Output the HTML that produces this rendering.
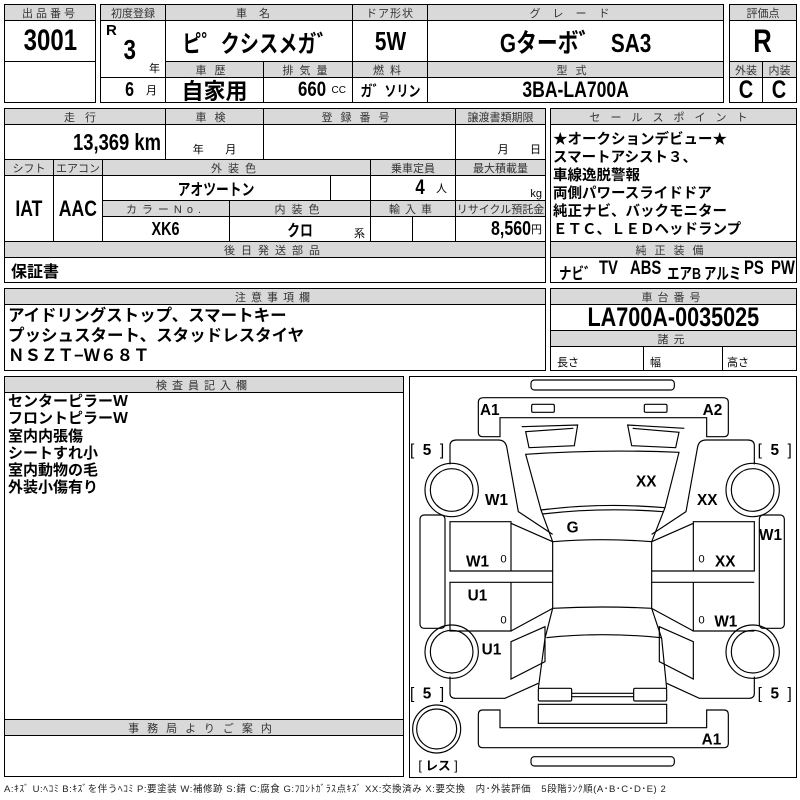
<!DOCTYPE html>
<html><head><meta charset="utf-8">
<style>
*{margin:0;padding:0}
body{width:800px;height:800px;background:#fff;position:relative;overflow:hidden;font-family:"Liberation Sans","Noto Sans CJK JP",sans-serif;color:#000}
.c{position:absolute;border:1px solid #000;box-sizing:border-box;display:flex;align-items:center;justify-content:center;font-weight:bold;white-space:nowrap;overflow:hidden}
.h{background:#d9d9d9;font-weight:normal;font-size:11px;letter-spacing:3px;color:#333}
.t{position:absolute;white-space:nowrap}
.s{display:inline-block;transform:scaleX(.8)}
.sr{display:inline-block;transform:scaleX(.8);transform-origin:right center}
.tl{transform:scaleX(.78);transform-origin:left center}
</style></head><body>
<div class="c h" style="left:4px;top:4px;width:92px;height:17px">出品番号</div>
<div class="c" style="left:4px;top:20px;width:92px;height:42px;font-size:30px"><span class="s">3001</span></div>
<div class="c" style="left:4px;top:61px;width:92px;height:42px"></div>
<div class="c h" style="left:100px;top:4px;width:66px;height:17px;letter-spacing:0">初度登録</div>
<div class="c h" style="left:165px;top:4px;width:188px;height:17px;letter-spacing:12px">車名</div>
<div class="c h" style="left:352px;top:4px;width:76px;height:17px;letter-spacing:1px">ドア形状</div>
<div class="c h" style="left:427px;top:4px;width:297px;height:17px;letter-spacing:12px">グレード</div>
<div class="c" style="left:100px;top:20px;width:66px;height:58px"></div>
<div class="t" style="left:106px;top:22px;font-size:15px;font-weight:bold">R</div>
<div class="t" style="left:122px;top:34px;font-size:28px;font-weight:bold"><span class="s">3</span></div>
<div class="t" style="left:149px;top:60px;font-size:11px">年</div>
<div class="c" style="left:165px;top:20px;width:188px;height:42px;font-size:24px"><span class="s">ピ゜クシスメガ゛</span></div>
<div class="c" style="left:352px;top:20px;width:76px;height:42px;font-size:26px"><span class="s">5W</span></div>
<div class="c" style="left:427px;top:20px;width:297px;height:42px;font-size:26px"><span class="s">Gターボ゛&nbsp;&nbsp;SA3</span></div>
<div class="c h" style="left:165px;top:61px;width:99px;height:17px;letter-spacing:8px">車歴</div>
<div class="c h" style="left:263px;top:61px;width:90px;height:17px;letter-spacing:6px">排気量</div>
<div class="c h" style="left:352px;top:61px;width:76px;height:17px;letter-spacing:6px">燃料</div>
<div class="c h" style="left:427px;top:61px;width:297px;height:17px;letter-spacing:8px">型式</div>
<div class="c" style="left:100px;top:77px;width:66px;height:26px;font-size:20px;justify-content:flex-end;padding-right:8px"><span class="s">6</span>&nbsp;&nbsp;<span style="font-size:11px;font-weight:normal">月</span></div>
<div class="c" style="left:165px;top:77px;width:99px;height:26px;font-size:22px">自家用</div>
<div class="c" style="left:263px;top:77px;width:90px;height:26px;font-size:21px;justify-content:flex-end;padding-right:6px"><span class="sr">660</span>&nbsp;<span style="font-size:10px;font-weight:normal">CC</span></div>
<div class="c" style="left:352px;top:77px;width:76px;height:26px;font-size:15px"><span class="s">ガ゛ソリン</span></div>
<div class="c" style="left:427px;top:77px;width:297px;height:26px;font-size:22px"><span class="s">3BA-LA700A</span></div>
<div class="c h" style="left:729px;top:4px;width:68px;height:17px;letter-spacing:0">評価点</div>
<div class="c" style="left:729px;top:20px;width:68px;height:42px;font-size:32px"><span class="s">R</span></div>
<div class="c h" style="left:729px;top:61px;width:34px;height:17px;letter-spacing:0">外装</div>
<div class="c h" style="left:762px;top:61px;width:35px;height:17px;letter-spacing:0">内装</div>
<div class="c" style="left:729px;top:77px;width:34px;height:26px;font-size:25px"><span class="s">C</span></div>
<div class="c" style="left:762px;top:77px;width:35px;height:26px;font-size:25px"><span class="s">C</span></div>
<div class="c h" style="left:4px;top:108px;width:162px;height:17px;letter-spacing:10px">走行</div>
<div class="c h" style="left:165px;top:108px;width:99px;height:17px;letter-spacing:8px">車検</div>
<div class="c h" style="left:263px;top:108px;width:193px;height:17px;letter-spacing:8px">登録番号</div>
<div class="c h" style="left:455px;top:108px;width:91px;height:17px;letter-spacing:0">譲渡書類期限</div>
<div class="c" style="left:4px;top:124px;width:162px;height:36px;font-size:23px;justify-content:flex-end;padding-right:4px"><span class="sr">13,369 km</span></div>
<div class="c" style="left:165px;top:124px;width:99px;height:36px;font-size:11px;font-weight:normal;align-items:flex-end;padding-bottom:2px">年&nbsp;&nbsp;&nbsp;&nbsp;&nbsp;&nbsp;&nbsp;月</div>
<div class="c" style="left:263px;top:124px;width:193px;height:36px"></div>
<div class="c" style="left:455px;top:124px;width:91px;height:36px;font-size:11px;font-weight:normal;align-items:flex-end;justify-content:flex-end;padding:0 4px 2px 0">月&nbsp;&nbsp;&nbsp;&nbsp;&nbsp;&nbsp;&nbsp;日</div>
<div class="c h" style="left:4px;top:159px;width:50px;height:17px;letter-spacing:0">シフト</div>
<div class="c h" style="left:53px;top:159px;width:50px;height:17px;letter-spacing:0">エアコン</div>
<div class="c h" style="left:102px;top:159px;width:269px;height:17px;letter-spacing:6px">外装色</div>
<div class="c h" style="left:370px;top:159px;width:86px;height:17px;letter-spacing:0">乗車定員</div>
<div class="c h" style="left:455px;top:159px;width:91px;height:17px;letter-spacing:0">最大積載量</div>
<div class="c" style="left:4px;top:175px;width:50px;height:67px;font-size:22px"><span class="s">IAT</span></div>
<div class="c" style="left:53px;top:175px;width:50px;height:67px;font-size:22px"><span class="s">AAC</span></div>
<div class="c" style="left:102px;top:175px;width:229px;height:26px;font-size:16px"><span class="s">アオツートン</span></div>
<div class="c" style="left:330px;top:175px;width:41px;height:26px"></div>
<div class="c" style="left:370px;top:175px;width:86px;height:26px;font-size:21px;justify-content:flex-end;padding-right:8px"><span class="sr">4</span>&nbsp;&nbsp;<span style="font-size:11px;font-weight:normal">人</span></div>
<div class="c" style="left:455px;top:175px;width:91px;height:26px;font-size:11px;font-weight:normal;justify-content:flex-end;padding-right:3px;align-items:flex-end">kg</div>
<div class="c h" style="left:102px;top:200px;width:128px;height:17px;letter-spacing:5px">カラーNo.</div>
<div class="c h" style="left:229px;top:200px;width:142px;height:17px;letter-spacing:6px">内装色</div>
<div class="c h" style="left:370px;top:200px;width:86px;height:17px;letter-spacing:5px">輸入車</div>
<div class="c h" style="left:455px;top:200px;width:91px;height:17px;letter-spacing:0">リサイクル預託金</div>
<div class="c" style="left:102px;top:216px;width:128px;height:26px;font-size:18px"><span class="s">XK6</span></div>
<div class="c" style="left:229px;top:216px;width:142px;height:26px;font-size:16px"><span class="s">クロ</span></div>
<div class="t" style="left:354px;top:225px;font-size:11px">系</div>
<div class="c" style="left:370px;top:216px;width:43px;height:26px"></div>
<div class="c" style="left:412px;top:216px;width:44px;height:26px"></div>
<div class="c" style="left:455px;top:216px;width:91px;height:26px;font-size:20px;justify-content:flex-end;padding-right:3px"><span class="sr">8,560</span><span style="font-size:11px;font-weight:normal">円</span></div>
<div class="c h" style="left:4px;top:241px;width:542px;height:17px;letter-spacing:6px">後日発送部品</div>
<div class="c" style="left:4px;top:257px;width:542px;height:26px;font-size:16px;justify-content:flex-start;padding-left:6px">保証書</div>
<div class="c h" style="left:550px;top:108px;width:247px;height:17px;letter-spacing:10px">セールスポイント</div>
<div class="c" style="left:550px;top:124px;width:247px;height:118px"></div>
<div class="t" style="left:553px;top:131px;font-size:14.5px;font-weight:bold;line-height:18px">★オークションデビュー★<br>スマートアシスト３、<br>車線逸脱警報<br>両側パワースライドドア<br>純正ナビ、バックモニター<br>ＥＴＣ、ＬＥＤヘッドランプ</div>
<div class="c h" style="left:550px;top:241px;width:247px;height:17px;letter-spacing:8px">純正装備</div>
<div class="c" style="left:550px;top:257px;width:247px;height:26px"></div>
<div class="t tl" style="left:559px;top:260px;font-size:16px;font-weight:bold">ナビ゛</div>
<div class="t tl" style="left:599px;top:258px;font-size:19px;font-weight:bold">TV</div>
<div class="t tl" style="left:630px;top:258px;font-size:19px;font-weight:bold">ABS</div>
<div class="t tl" style="left:667px;top:260px;font-size:16px;font-weight:bold">エアB</div>
<div class="t tl" style="left:704px;top:260px;font-size:16px;font-weight:bold">アルミ</div>
<div class="t tl" style="left:744px;top:258px;font-size:19px;font-weight:bold">PS</div>
<div class="t tl" style="left:771px;top:258px;font-size:19px;font-weight:bold">PW</div>
<div class="c h" style="left:4px;top:288px;width:542px;height:17px;letter-spacing:5px">注意事項欄</div>
<div class="c" style="left:4px;top:304px;width:542px;height:67px"></div>
<div class="t" style="left:8px;top:306px;font-size:16.5px;font-weight:bold;line-height:20px">アイドリングストップ、スマートキー<br>プッシュスタート、スタッドレスタイヤ<br>ＮＳＺＴ−Ｗ６８Ｔ</div>
<div class="c h" style="left:550px;top:288px;width:247px;height:17px;letter-spacing:5px">車台番号</div>
<div class="c" style="left:550px;top:304px;width:247px;height:27px;font-size:27px"><span class="s">LA700A-0035025</span></div>
<div class="c h" style="left:550px;top:330px;width:247px;height:17px;letter-spacing:5px">諸元</div>
<div class="c" style="left:550px;top:346px;width:94px;height:25px;font-size:11px;font-weight:normal;justify-content:flex-start;padding-left:6px;align-items:flex-end">長さ</div>
<div class="c" style="left:643px;top:346px;width:80px;height:25px;font-size:11px;font-weight:normal;justify-content:flex-start;padding-left:6px;align-items:flex-end">幅</div>
<div class="c" style="left:722px;top:346px;width:75px;height:25px;font-size:11px;font-weight:normal;justify-content:flex-start;padding-left:4px;align-items:flex-end">高さ</div>
<div class="c h" style="left:4px;top:376px;width:400px;height:17px;letter-spacing:5px">検査員記入欄</div>
<div class="c" style="left:4px;top:392px;width:400px;height:328px"></div>
<div class="t" style="left:8px;top:393px;font-size:15px;font-weight:bold;line-height:17.3px">センターピラーＷ<br>フロントピラーＷ<br>室内内張傷<br>シートすれ小<br>室内動物の毛<br>外装小傷有り</div>
<div class="c h" style="left:4px;top:719px;width:400px;height:17px;letter-spacing:8px">事務局よりご案内</div>
<div class="c" style="left:4px;top:735px;width:400px;height:42px"></div>
<div class="c" style="left:409px;top:376px;width:388px;height:402px"></div>
<svg style="position:absolute;left:0;top:0" width="800" height="800">
<g transform="translate(405,375) scale(0.33333)" fill="none" stroke="#000" stroke-width="3.5">
<rect x="378" y="15" width="430" height="30" rx="10"/>
<path d="M220,82 Q220,68 236,68 L954,68 Q970,68 970,82 L970,172 Q970,185 957,185 L905,185 L905,128 L285,128 L285,185 L233,185 Q220,185 220,172 Z"/>
<rect x="380" y="88" width="68" height="24" rx="4"/>
<rect x="718" y="88" width="68" height="24" rx="4"/>
<path d="M350,155 L518,150 L508,212 L372,218 L362,170 L505,160"/>
<path d="M838,160 L668,150 L680,212 L812,218 L822,172 L683,160"/>
<path d="M362,238 Q590,222 822,232 L780,398 Q590,382 408,405 Z"/>
<path d="M408,405 L443,500 M780,398 L740,500 M412,417 Q590,396 776,410"/>
<path d="M443,500 Q590,488 740,500 L740,700 Q590,692 443,700 Z"/>
<path d="M443,700 L420,790 L400,940 M740,700 L770,790 L785,940 M424,788 Q590,770 768,788"/>
<rect x="400" y="940" width="100" height="38" rx="4"/>
<rect x="686" y="940" width="99" height="38" rx="4"/>
<path d="M500,955 L686,955 M500,965 L686,965"/>
<rect x="400" y="988" width="385" height="57"/>
<path d="M220,1018 Q220,1005 233,1005 L285,1005 L285,1058 L905,1058 L905,1005 L957,1005 Q970,1005 970,1018 L970,1105 Q970,1118 957,1118 L233,1118 Q220,1118 220,1105 Z"/>
<rect x="378" y="1145" width="430" height="28" rx="10"/>
<path d="M135,268 L135,212 Q135,195 155,195 L280,195 Q300,195 305,215 L340,410 L443,478"/>
<circle cx="140" cy="345" r="80"/><circle cx="140" cy="345" r="64"/>
<path d="M1048,268 L1048,212 Q1048,195 1028,195 L903,195 Q883,195 878,215 L843,410 L740,478"/>
<circle cx="1043" cy="345" r="80"/><circle cx="1043" cy="345" r="64"/>
<path d="M135,440 L318,440 L318,588 L135,588 Z M318,445 L443,500 M135,588 L443,588 M135,622 L443,622 M135,622 L318,622 L318,768 L135,768 Z M318,768 L443,700"/>
<path d="M1048,440 L865,440 L865,588 L1048,588 Z M865,445 L740,500 M1048,588 L740,588 M1048,622 L740,622 M865,622 L865,768 L1048,768 M865,768 L740,700"/>
<rect x="45" y="420" width="75" height="340" rx="12"/>
<rect x="1063" y="420" width="75" height="340" rx="12"/>
<path d="M318,800 L420,755 L420,860 L318,912 Z"/>
<path d="M865,800 L763,755 L763,860 L865,912 Z"/>
<path d="M135,905 L135,955 Q135,970 152,970 L300,970 L400,925"/>
<path d="M1048,905 L1048,955 Q1048,970 1031,970 L883,970 L785,925"/>
<circle cx="140" cy="830" r="80"/><circle cx="140" cy="830" r="64"/>
<circle cx="1043" cy="830" r="80"/><circle cx="1043" cy="830" r="64"/>
<circle cx="95" cy="1062" r="72"/><circle cx="95" cy="1062" r="60"/>
</g>
<g transform="translate(405,375) scale(0.33333)" font-family="Liberation Sans, Noto Sans CJK JP, sans-serif" font-weight="bold" font-size="46" fill="#000">
<text x="225" y="120">A1</text><text x="893" y="120">A2</text>
<text x="15" y="240" font-weight="normal">[&#160;&#160;<tspan font-weight="bold">5</tspan>&#160;&#160;]</text>
<text x="1058" y="240" font-weight="normal">[&#160;&#160;<tspan font-weight="bold">5</tspan>&#160;&#160;]</text>
<text x="15" y="970" font-weight="normal">[&#160;&#160;<tspan font-weight="bold">5</tspan>&#160;&#160;]</text>
<text x="1058" y="970" font-weight="normal">[&#160;&#160;<tspan font-weight="bold">5</tspan>&#160;&#160;]</text>
<text x="693" y="335">XX</text><text x="876" y="390">XX</text>
<text x="240" y="390">W1</text><text x="485" y="472">G</text>
<text x="1062" y="495">W1</text><text x="183" y="575">W1</text>
<text x="930" y="575">XX</text><text x="188" y="677">U1</text>
<text x="928" y="755">W1</text><text x="230" y="838">U1</text>
<text x="890" y="1108">A1</text>
<text x="286" y="562" font-size="34" font-weight="normal">0</text>
<text x="880" y="562" font-size="34" font-weight="normal">0</text>
<text x="286" y="745" font-size="34" font-weight="normal">0</text>
<text x="880" y="745" font-size="34" font-weight="normal">0</text>
<text x="40" y="1185" font-size="38" font-weight="normal">[ <tspan font-weight="bold">レス</tspan> ]</text>
</g>
</svg>
<div class="t" style="left:4px;top:781px;font-size:9.5px;letter-spacing:0.55px;color:#222">A:ｷｽﾞ U:ﾍｺﾐ B:ｷｽﾞを伴うﾍｺﾐ P:要塗装 W:補修跡 S:錆 C:腐食 G:ﾌﾛﾝﾄｶﾞﾗｽ点ｷｽﾞ XX:交換済み X:要交換　内･外装評価　5段階ﾗﾝｸ順(A･B･C･D･E) 2</div>
</body></html>
